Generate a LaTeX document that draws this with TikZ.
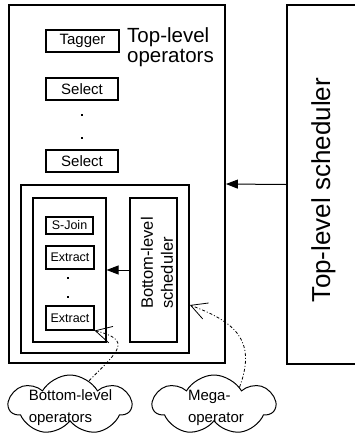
\documentclass[tikz,border=0pt]{standalone}
\usepackage{fontspec}
\setmainfont{Liberation Sans}
\usetikzlibrary{arrows.meta,shapes.symbols}
\begin{document}
\begin{tikzpicture}[x=1pt,y=-1pt,
  heavybox/.style={draw,line width=1.8pt,inner sep=0},
  lightbox/.style={draw,line width=1.1pt,inner sep=0},
  opbox/.style={draw,line width=1.7pt,inner sep=0,font=\fontsize{15}{18}\selectfont},
  smallop/.style={draw,line width=1.1pt,inner sep=0,font=\fontsize{12.5}{15}\selectfont},
  ellipsisdot/.style={fill,rectangle,inner sep=0,minimum size=2.2pt},
  callarrow/.style={line width=1pt,-{Triangle[length=12pt,width=9pt]}},
  pointer/.style={line width=0.8pt,dash pattern=on 3pt off 2pt on 1pt off 2pt,
    -{Straight Barb[length=16pt,width=17pt,line width=0.8pt]}},
  thought/.style={cloud,draw,line width=1pt,cloud puffs=7,cloud puff arc=120,
    inner sep=0,minimum width=122pt,minimum height=60pt},
  cloudtext/.style={align=left,inner sep=0,font=\fontsize{15}{22}\selectfont}]
\useasboundingbox (0,0) rectangle (354,437);

% top level: operator container and its scheduler
\node[heavybox,minimum width=216pt,minimum height=358pt] (topbox) at (117,184) {};
\node[heavybox,minimum width=83pt,minimum height=359pt] (schedbox) at (328.5,184.5) {};
\node[rotate=90,anchor=base,inner sep=0,font=\fontsize{26}{30}\selectfont] (schedtext) at (330,190) {Top-level scheduler};
\node[align=left,inner sep=0,anchor=center,font=\fontsize{20.5}{20}\selectfont] (toplabel) at (170.5,47.5) {Top-level\\operators};

% top-level operators
\node[opbox,minimum width=73pt,minimum height=22pt] (tagger) at (82.5,41) {Tagger};
\node[opbox,minimum width=72pt,minimum height=22pt] (sel1) at (82,89) {Select};
\node[ellipsisdot] (tdot1) at (82,115) {};
\node[ellipsisdot] (tdot2) at (82,138) {};
\node[opbox,minimum width=72pt,minimum height=22pt] (sel2) at (82,161) {Select};

% mega-operator: bottom-level operators and their scheduler
\node[heavybox,minimum width=168pt,minimum height=168pt] (botbox) at (105,269) {};
\node[lightbox,minimum width=73pt,minimum height=144pt] (opsbox) at (69.5,270) {};
\node[lightbox,minimum width=47pt,minimum height=144pt] (bsched) at (153.5,270) {};
\node[rotate=90,align=left,inner sep=0,font=\fontsize{16.5}{20}\selectfont] (bschedtext) at (157,263) {Bottom-level\\scheduler};

\node[smallop,minimum width=47pt,minimum height=17pt] (sjoin) at (69.5,225.5) {S-Join};
\node[smallop,minimum width=48pt,minimum height=23pt] (xtr1) at (70,257.5) {Extract};
\node[ellipsisdot] (bdot1) at (68,278) {};
\node[ellipsisdot] (bdot2) at (68,297) {};
\node[smallop,minimum width=48pt,minimum height=24pt] (xtr2) at (70,318) {Extract};

% scheduling arrows
\draw[callarrow] (schedbox.west) -- (topbox.east);
\draw[callarrow] (bsched.west) -- (opsbox.east);

% annotation clouds
\node[thought] (opscloud) at (70,405) {};
\node[cloudtext] (opscloudtext) at (70.5,408) {Bottom-level\\operators};
\node[thought] (megacloud) at (214,405) {};
\node[cloudtext] (megacloudtext) at (216,408) {Mega-\\operator};

\draw[pointer] (opscloud.52) .. controls (120,350) and (132,340) .. (xtr2.south east);
\draw[pointer] (megacloud.35) .. controls (257,340) and (235,322) .. ([yshift=-36pt]botbox.east);
\end{tikzpicture}
\end{document}
